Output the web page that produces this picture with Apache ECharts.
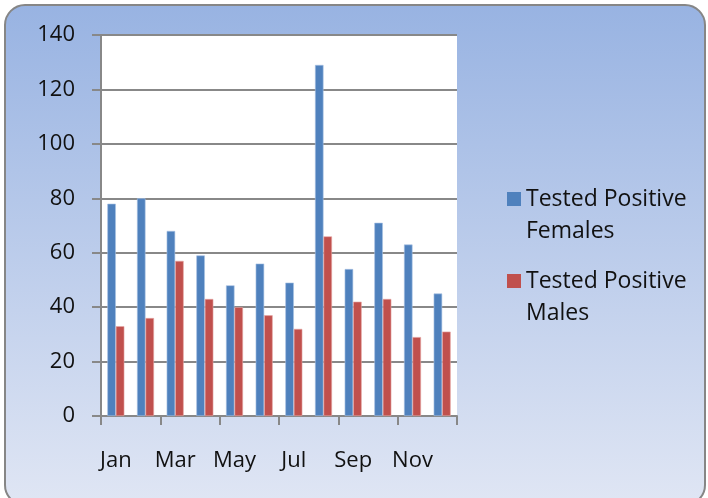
<!DOCTYPE html>
<html>
<head>
<meta charset="utf-8">
<script src="https://cdn.jsdelivr.net/npm/echarts@6/dist/echarts.min.js"></script>
<style>
  html, body { margin: 0; padding: 0; background: #fff; }
  #chart { width: 708px; height: 498px; }
</style>
</head>
<body>
<div id="chart"></div>
<script>
var months = ['Jan', 'Feb', 'Mar', 'Apr', 'May', 'Jun', 'Jul', 'Aug', 'Sep', 'Oct', 'Nov', 'Dec'];
var females = [78, 80, 68, 59, 48, 56, 49, 129, 54, 71, 63, 45];
var males = [33, 36, 57, 43, 40, 37, 32, 66, 42, 43, 29, 31];
var seriesNames = ['Tested Positive Females', 'Tested Positive Males'];

var fontFam = '"Open Sans", sans-serif';

var chart = echarts.init(document.getElementById('chart'));

// each legend placed on its own so the square lines up with the first text line
function legendFor(name, top) {
    return {
        data: [name],
        left: 502,
        top: top,
        orient: 'vertical',
        icon: 'rect',
        itemWidth: 14,
        itemHeight: 14,
        itemStyle: { borderWidth: 0 },
        formatter: function (n) { return '\n' + n.replace('Positive ', 'Positive\n'); },
        textStyle: {
            fontFamily: fontFam,
            fontSize: 23,
            color: '#111',
            lineHeight: 32,
            padding: [0, 0, 0, 0]
        }
    };
}

chart.setOption({
    animation: false,
    graphic: [{
        type: 'rect',
        z: -10,
        shape: { x: 5, y: 5, width: 700, height: 500, r: 20 },
        style: {
            fill: new echarts.graphic.LinearGradient(0, 0, 0, 1, [
                { offset: 0, color: '#98b3e2' },
                { offset: 1, color: '#e0e6f4' }
            ]),
            stroke: '#868686',
            lineWidth: 2
        }
    }],
    legend: [
        legendFor(seriesNames[0], 146),
        legendFor(seriesNames[1], 228)
    ],
    grid: {
        left: 101,
        right: 251,
        top: 35,
        bottom: 82,
        show: true,
        backgroundColor: '#fff',
        borderWidth: 0
    },
    xAxis: {
        type: 'category',
        data: months,
        axisLine: { lineStyle: { color: '#888', width: 2 } },
        axisTick: { show: true, length: 9, lineStyle: { color: '#888', width: 2 } },
        axisLabel: {
            interval: 1,
            margin: 34,
            fontFamily: fontFam,
            fontSize: 22,
            color: '#111'
        }
    },
    yAxis: {
        type: 'value',
        min: 0,
        max: 140,
        interval: 20,
        axisLine: { show: true, lineStyle: { color: '#888', width: 2 } },
        axisTick: { show: true, length: 9, lineStyle: { color: '#888', width: 2 } },
        splitLine: { lineStyle: { color: '#888', width: 2 } },
        axisLabel: {
            margin: 26,
            fontFamily: fontFam,
            fontSize: 22,
            color: '#111'
        }
    },
    series: [{
        name: seriesNames[0],
        type: 'bar',
        data: females,
        barWidth: 8.5,
        barGap: 0,
        itemStyle: { color: '#4f81bd', borderColor: '#a9c2e4', borderWidth: 0.6 }
    }, {
        name: seriesNames[1],
        type: 'bar',
        data: males,
        barWidth: 8.5,
        barGap: 0,
        itemStyle: { color: '#c0504d', borderColor: '#e6a8a6', borderWidth: 0.6 }
    }]
});
</script>
</body>
</html>
